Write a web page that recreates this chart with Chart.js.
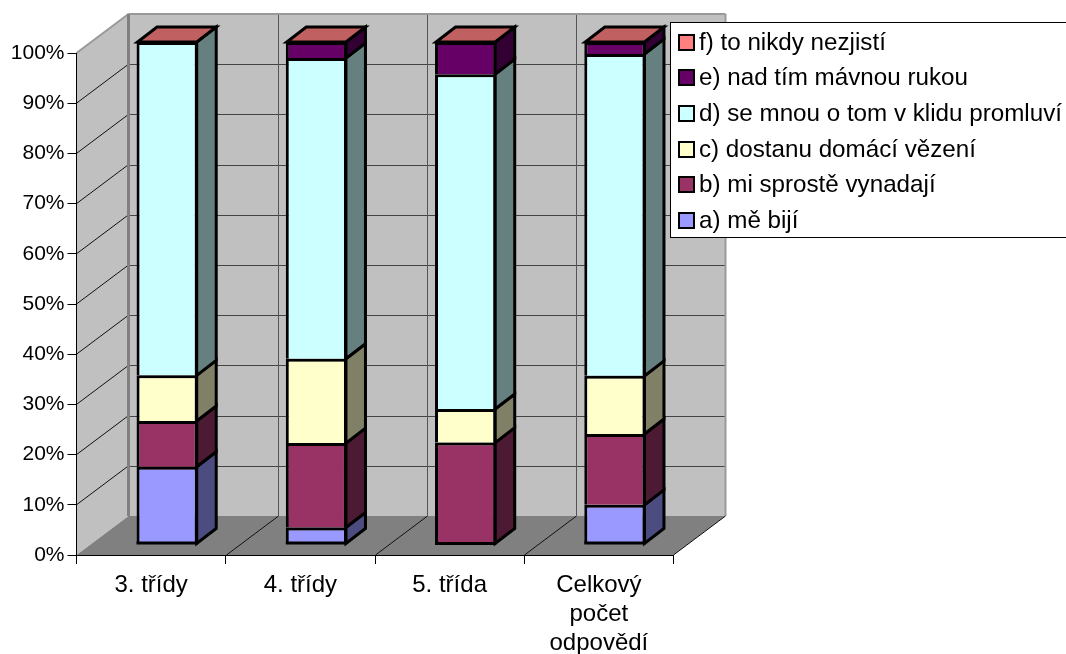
<!DOCTYPE html>
<html lang="cs">
<head>
<meta charset="utf-8">
<title>Chart</title>
<style>
    html, body { margin: 0; padding: 0; background: #ffffff; }
    canvas { display: block; }
</style>
<script src="https://cdn.jsdelivr.net/npm/chart.js@4/dist/chart.umd.min.js"></script>
</head>
<body>
<canvas id="chart" width="1066" height="654"></canvas>
<script>
const categories = ["3. třídy", "4. třídy", "5. třída", ["Celkový", "počet", "odpovědí"]];

const seriesNames = [
    "a) mě bijí",
    "b) mi sprostě vynadají",
    "c) dostanu domácí vězení",
    "d) se mnou o tom v klidu promluví",
    "e) nad tím mávnou rukou",
    "f) to nikdy nezjistí",
];

const valuesA = [15.4, 3.3, 0, 7.8];
const valuesB = [9.1, 16.8, 20.2, 14.1];
const valuesC = [9.1, 16.8, 6.7, 11.6];
const valuesD = [66.4, 59.9, 66.7, 64.1];
const valuesE = [0, 3.2, 6.4, 2.4];
const valuesF = [0, 0, 0, 0];

const seriesColors = ["#9999ff", "#993366", "#ffffcc", "#ccffff", "#660066", "#ff8080"];
const sideColors = ["#4c4c80", "#4d1a33", "#808066", "#668080", "#330033", "#804040"];
const topColors = ["#7373c0", "#73264d", "#c0c099", "#99c0c0", "#4d004d", "#c06060"];

const FONT_FAMILY = '"Liberation Sans", Arial, sans-serif';

// wall depth and the offset of the bars inside the 3D box
const WALL_DX = 52;
const WALL_DY = 39;
const BAR_DX = 16;
const BAR_DY = 11;
const SIDE_DX = 19.5;
const SIDE_DY = 15;
const BAR_LINE = 3;

function fillPoly(ctx, points, color) {
    ctx.beginPath();
    points.forEach((p, i) => (i ? ctx.lineTo(p[0], p[1]) : ctx.moveTo(p[0], p[1])));
    ctx.closePath();
    ctx.fillStyle = color;
    ctx.fill();
}

function strokeLine(ctx, x1, y1, x2, y2, color, width) {
    ctx.beginPath();
    ctx.moveTo(x1, y1);
    ctx.lineTo(x2, y2);
    ctx.strokeStyle = color;
    ctx.lineWidth = width;
    ctx.stroke();
}

const wallsPlugin = {
    id: "walls",
    beforeDraw(chart) {
        const ctx = chart.ctx;
        const { x, y } = chart.scales;
        const left = x.left;
        const right = x.right;
        const top = y.getPixelForValue(100);
        const bottom = y.getPixelForValue(0);

        ctx.save();
        fillPoly(ctx, [[left + WALL_DX, top - WALL_DY], [right + WALL_DX, top - WALL_DY],
            [right + WALL_DX, bottom - WALL_DY], [left + WALL_DX, bottom - WALL_DY]], "#c0c0c0");
        fillPoly(ctx, [[left, top], [left + WALL_DX, top - WALL_DY],
            [left + WALL_DX, bottom - WALL_DY], [left, bottom]], "#c0c0c0");
        fillPoly(ctx, [[left, bottom], [right, bottom],
            [right + WALL_DX, bottom - WALL_DY], [left + WALL_DX, bottom - WALL_DY]], "#808080");

        // horizontal grid, running over the left wall and the back wall
        y.ticks.forEach((tick) => {
            const py = y.getPixelForValue(tick.value);
            if (tick.value > 0 && tick.value < 100) {
                strokeLine(ctx, left, py, left + WALL_DX, py - WALL_DY, "#111111", 1);
                strokeLine(ctx, left + WALL_DX, Math.round(py - WALL_DY) + 0.5,
                    right + WALL_DX, Math.round(py - WALL_DY) + 0.5, "#444444", 1);
            }
        });

        // category separators on the floor and the back wall
        for (let i = 1; i < categories.length; i++) {
            const px = Math.round(left + (right - left) * i / categories.length) + 0.5;
            strokeLine(ctx, px, bottom, px + WALL_DX, bottom - WALL_DY, "#111111", 1);
            strokeLine(ctx, px + WALL_DX, top - WALL_DY, px + WALL_DX, bottom - WALL_DY, "#555555", 1);
        }

        strokeLine(ctx, left, top, left + WALL_DX, top - WALL_DY, "#999999", 2);
        strokeLine(ctx, left + WALL_DX, top - WALL_DY, right + WALL_DX, top - WALL_DY, "#999999", 2);
        strokeLine(ctx, left + WALL_DX, top - WALL_DY, left + WALL_DX, bottom - WALL_DY, "#808080", 3);
        strokeLine(ctx, right + WALL_DX, top - WALL_DY, right + WALL_DX, bottom - WALL_DY, "#999999", 2);
        strokeLine(ctx, right, bottom, right + WALL_DX, bottom - WALL_DY, "#111111", 1);
        ctx.restore();
    },
    beforeDatasetsDraw(chart) {
        chart.ctx.save();
        chart.ctx.translate(BAR_DX, -BAR_DY);
    },
    afterDatasetsDraw(chart) {
        const ctx = chart.ctx;
        ctx.lineJoin = "miter";

        categories.forEach((category, c) => {
            let barTop = null;
            let barBase = null;
            let barRight = 0;
            let barLeft = 0;

            seriesNames.forEach((name, s) => {
                const bar = chart.getDatasetMeta(s).data[c];
                const right = bar.x + bar.width / 2 - 1;
                barTop = bar.y;
                barBase = barBase === null ? bar.base : barBase;
                barRight = right;
                barLeft = bar.x - bar.width / 2 + 1;
                if (bar.base - bar.y < 0.5) {
                    return;
                }
                const face = [[right, bar.base], [right, bar.y],
                    [right + SIDE_DX, bar.y - SIDE_DY], [right + SIDE_DX, bar.base - SIDE_DY]];
                fillPoly(ctx, face, sideColors[s]);
                ctx.strokeStyle = "#000000";
                ctx.lineWidth = BAR_LINE;
                ctx.stroke();
            });

            // the bars only carry a top border, so the stack is closed here
            strokeLine(ctx, barLeft - 1, barBase - 0.5, barRight + 1, barBase - 0.5, "#000000", BAR_LINE);

            fillPoly(ctx, [[barLeft, barTop], [barRight, barTop],
                [barRight + SIDE_DX, barTop - SIDE_DY], [barLeft + SIDE_DX, barTop - SIDE_DY]],
                topColors[seriesNames.length - 1]);
            ctx.strokeStyle = "#000000";
            ctx.lineWidth = BAR_LINE;
            ctx.stroke();
        });
        ctx.restore();
    },
    afterDraw(chart) {
        drawLegend(chart);
    },
};

function drawLegend(chart) {
    const ctx = chart.ctx;
    ctx.save();
    ctx.fillStyle = "#ffffff";
    ctx.fillRect(670.5, 22.5, 396, 215);
    ctx.strokeStyle = "#000000";
    ctx.lineWidth = 1;
    ctx.strokeRect(670.5, 22.5, 396, 215);

    ctx.font = "24.2px " + FONT_FAMILY;
    ctx.textBaseline = "middle";
    ctx.textAlign = "left";
    for (let s = seriesNames.length - 1; s >= 0; s--) {
        const row = seriesNames.length - 1 - s;
        const cy = Math.round(41.5 + row * 35.7);
        ctx.fillStyle = seriesColors[s];
        ctx.fillRect(679, cy - 7, 15, 15);
        ctx.strokeStyle = "#000000";
        ctx.lineWidth = 2;
        ctx.strokeRect(679, cy - 7, 15, 15);
        ctx.fillStyle = "#000000";
        ctx.fillText(seriesNames[s], 699, cy + 1);
    }
    ctx.restore();
}

function buildDatasets() {
    const allValues = [valuesA, valuesB, valuesC, valuesD, valuesE, valuesF];
    return seriesNames.map((name, s) => ({
        label: name,
        data: allValues[s],
        backgroundColor: seriesColors[s],
        borderColor: "#000000",
        borderWidth: { top: BAR_LINE, left: BAR_LINE, right: BAR_LINE, bottom: 0 },
        borderSkipped: false,
        barPercentage: 1,
        categoryPercentage: 0.41,
        clip: false,
    }));
}

new Chart(document.getElementById("chart"), {
    type: "bar",
    data: {
        labels: categories,
        datasets: buildDatasets(),
    },
    options: {
        responsive: false,
        animation: false,
        layout: {
            padding: { top: 53, right: 392.5, bottom: 0, left: 0 },
        },
        plugins: {
            legend: { display: false },
            tooltip: { enabled: false },
        },
        scales: {
            x: {
                stacked: true,
                afterFit(scale) {
                    scale.height = 99;
                },
                grid: {
                    drawOnChartArea: false,
                    tickLength: 9,
                    tickColor: "#000000",
                },
                border: { color: "#000000", width: 1 },
                ticks: {
                    color: "#000000",
                    font: { family: FONT_FAMILY, size: 24, lineHeight: 1.2 },
                    maxRotation: 0,
                    autoSkip: false,
                    padding: 7,
                },
            },
            y: {
                stacked: true,
                min: 0,
                max: 100,
                afterFit(scale) {
                    scale.width = 76.5;
                },
                grid: {
                    drawOnChartArea: false,
                    tickLength: 9,
                    tickColor: "#000000",
                },
                border: { color: "#000000", width: 1 },
                ticks: {
                    stepSize: 10,
                    color: "#000000",
                    font: { family: FONT_FAMILY, size: 21 },
                    padding: 3,
                    callback: (value) => value + "%",
                },
            },
        },
    },
    plugins: [wallsPlugin],
});
</script>
</body>
</html>
